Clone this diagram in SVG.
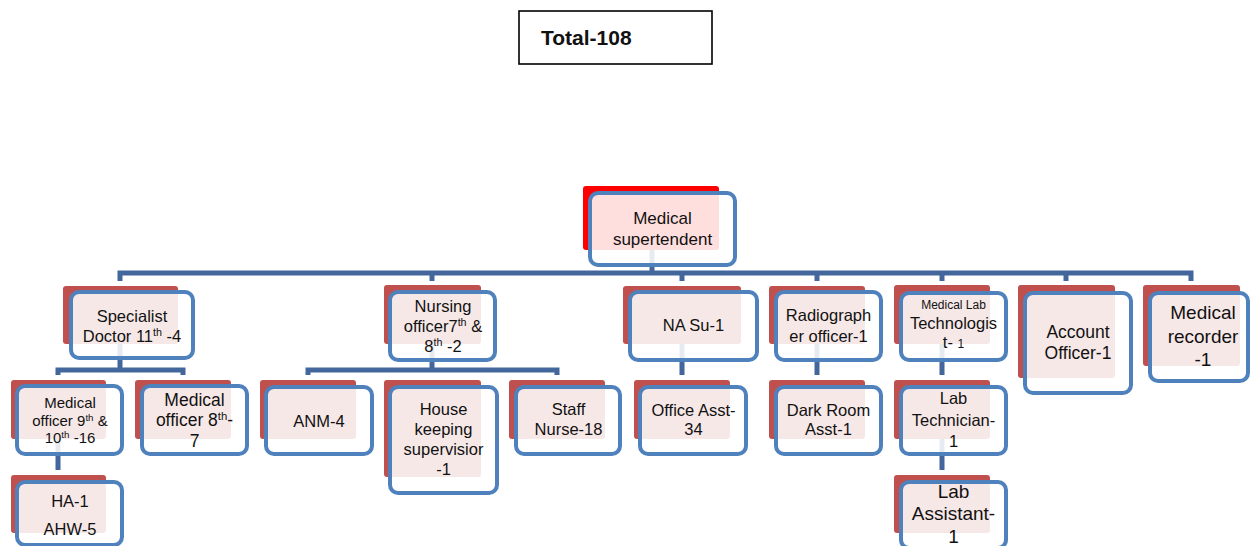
<svg xmlns="http://www.w3.org/2000/svg" width="1250" height="546" viewBox="0 0 1250 546">
<style>
.sh{fill:#C0504D}
.shr{fill:#FF0000}
.bx{fill:#FFFFFF;fill-opacity:0.87;stroke:#4F81BD;stroke-width:4}
.c{fill:none;stroke:#43679C;stroke-width:5;stroke-linejoin:miter}
text{font-family:"Liberation Sans",Arial,sans-serif;fill:#111;text-anchor:middle;font-size:16.5px}
.s15{font-size:15px}.s17{font-size:17.5px}.s19{font-size:19px}.s12{font-size:12px}
.sup{font-size:65%}
</style>
<rect x="0" y="0" width="1250" height="546" fill="#FFFFFF"/>
<g id="total">
<rect x="519" y="11" width="193" height="53" fill="#FFFFFF" stroke="#000" stroke-width="1.6"/>
<text x="541" y="45" style="text-anchor:start;font-weight:bold;font-size:21px">Total-108</text>
</g>
<g id="connectors">
<path class="c" d="M652,250 V273"/>
<path class="c" d="M120,281 V273 H1191 V281"/>
<path class="c" d="M432,273 V281 M682,273 V281 M817,273 V281 M942,273 V281 M1066,273 V281"/>
<path class="c" d="M120,344 V370"/>
<path class="c" d="M58,375 V370 H183 V375"/>
<path class="c" d="M58,439 V470"/>
<path class="c" d="M432,344 V370"/>
<path class="c" d="M308,375 V370 H557 V375"/>
<path class="c" d="M682,344 V375 M817,344 V375 M942,344 V375 M942,439 V470"/>
</g>
<g id="medical-supertendent">
<rect class="shr" x="583" y="186" width="136" height="64" rx="3"/>
<rect class="bx" x="590" y="193" width="145" height="72" rx="8"/>
<text x="662.5" y="224" style="font-size:17px">Medical</text>
<text x="662.5" y="245" style="font-size:17px">supertendent</text>
</g>
<g id="specialist-doctor">
<rect class="sh" x="63" y="286" width="115" height="58" rx="3"/>
<rect class="bx" x="71" y="292" width="122" height="66" rx="8"/>
<text x="132" y="322">Specialist</text>
<text x="132" y="342">Doctor 11<tspan class="sup" baseline-shift="super">th</tspan> -4</text>
</g>
<g id="medical-officer-9-10">
<rect class="sh" x="11" y="380" width="95" height="59" rx="3"/>
<rect class="bx" x="17" y="386" width="105" height="68" rx="8"/>
<text class="s15" x="70" y="408">Medical</text>
<text class="s15" x="70" y="426">officer 9<tspan class="sup" baseline-shift="super">th</tspan> &amp;</text>
<text class="s15" x="70" y="443">10<tspan class="sup" baseline-shift="super">th</tspan> -16</text>
</g>
<g id="medical-officer-8">
<rect class="sh" x="135" y="380" width="96" height="59" rx="3"/>
<rect class="bx" x="142" y="386" width="105" height="68" rx="8"/>
<text class="s17" x="194.5" y="406">Medical</text>
<text class="s17" x="194.5" y="426">officer 8<tspan class="sup" baseline-shift="super">th</tspan>-</text>
<text class="s17" x="194.5" y="447">7</text>
</g>
<g id="ha-ahw">
<rect class="sh" x="11" y="475" width="95" height="58" rx="3"/>
<rect class="bx" x="17" y="482" width="105" height="63" rx="8"/>
<text x="70" y="507">HA-1</text>
<text x="70" y="535">AHW-5</text>
</g>
<g id="nursing-officer">
<rect class="sh" x="384" y="285" width="97" height="59" rx="3"/>
<rect class="bx" x="390" y="292" width="105" height="68" rx="8"/>
<text x="443" y="312">Nursing</text>
<text x="443" y="332">officer7<tspan class="sup" baseline-shift="super">th</tspan> &amp;</text>
<text x="443" y="352">8<tspan class="sup" baseline-shift="super">th</tspan> -2</text>
</g>
<g id="anm">
<rect class="sh" x="260" y="380" width="96" height="59" rx="3"/>
<rect class="bx" x="266" y="387" width="106" height="67" rx="8"/>
<text x="319" y="427">ANM-4</text>
</g>
<g id="house-keeping">
<rect class="sh" x="384" y="380" width="97" height="97" rx="3"/>
<rect class="bx" x="390" y="387" width="107" height="106" rx="8"/>
<text x="443.5" y="415">House</text>
<text x="443.5" y="435">keeping</text>
<text x="443.5" y="455">supervisior</text>
<text x="443.5" y="475">-1</text>
</g>
<g id="staff-nurse">
<rect class="sh" x="509" y="380" width="96" height="59" rx="3"/>
<rect class="bx" x="516" y="387" width="104" height="67" rx="8"/>
<text x="568.5" y="415">Staff</text>
<text x="568.5" y="435">Nurse-18</text>
</g>
<g id="na-su">
<rect class="sh" x="623" y="286" width="118" height="58" rx="3"/>
<rect class="bx" x="630" y="292" width="127" height="68" rx="8"/>
<text x="693.5" y="331">NA Su-1</text>
</g>
<g id="office-asst">
<rect class="sh" x="634" y="380" width="96" height="59" rx="3"/>
<rect class="bx" x="640" y="387" width="106" height="67" rx="8"/>
<text x="693.5" y="416">Office Asst-</text>
<text x="693.5" y="435">34</text>
</g>
<g id="radiographer">
<rect class="sh" x="769" y="286" width="96" height="58" rx="3"/>
<rect class="bx" x="776" y="292" width="105" height="68" rx="8"/>
<text x="828.5" y="321">Radiograph</text>
<text x="828.5" y="342">er officer-1</text>
</g>
<g id="dark-room">
<rect class="sh" x="769" y="380" width="96" height="59" rx="3"/>
<rect class="bx" x="776" y="387" width="105" height="67" rx="8"/>
<text x="828.5" y="416">Dark Room</text>
<text x="828.5" y="435">Asst-1</text>
</g>
<g id="medical-lab-technologist">
<rect class="sh" x="894" y="285" width="96" height="59" rx="3"/>
<rect class="bx" x="901" y="293" width="105" height="67" rx="8"/>
<text class="s12" x="953.5" y="309">Medical Lab</text>
<text x="953.5" y="329">Technologis</text>
<text x="953.5" y="348">t- <tspan style="font-size:12px">1</tspan></text>
</g>
<g id="lab-technician">
<rect class="sh" x="894" y="380" width="96" height="59" rx="3"/>
<rect class="bx" x="901" y="387" width="105" height="67" rx="8"/>
<text x="953.5" y="404">Lab</text>
<text x="953.5" y="426">Technician-</text>
<text x="953.5" y="447">1</text>
</g>
<g id="lab-assistant">
<rect class="sh" x="894" y="475" width="96" height="58" rx="3"/>
<rect class="bx" x="901" y="482" width="105" height="66" rx="8"/>
<text class="s19" x="953.5" y="498">Lab</text>
<text class="s19" x="953.5" y="520">Assistant-</text>
<text class="s19" x="953.5" y="543">1</text>
</g>
<g id="account-officer">
<rect class="sh" x="1018" y="285" width="97" height="93" rx="3"/>
<rect class="bx" x="1025" y="293" width="106" height="100" rx="8"/>
<text class="s17" x="1078" y="338">Account</text>
<text class="s17" x="1078" y="359">Officer-1</text>
</g>
<g id="medical-recorder">
<rect class="sh" x="1143" y="285" width="97" height="81" rx="3"/>
<rect class="bx" x="1150" y="293" width="98" height="88" rx="8"/>
<text class="s19" x="1203" y="319">Medical</text>
<text class="s19" x="1203" y="343">recorder</text>
<text class="s19" x="1203" y="366">-1</text>
</g>
</svg>
